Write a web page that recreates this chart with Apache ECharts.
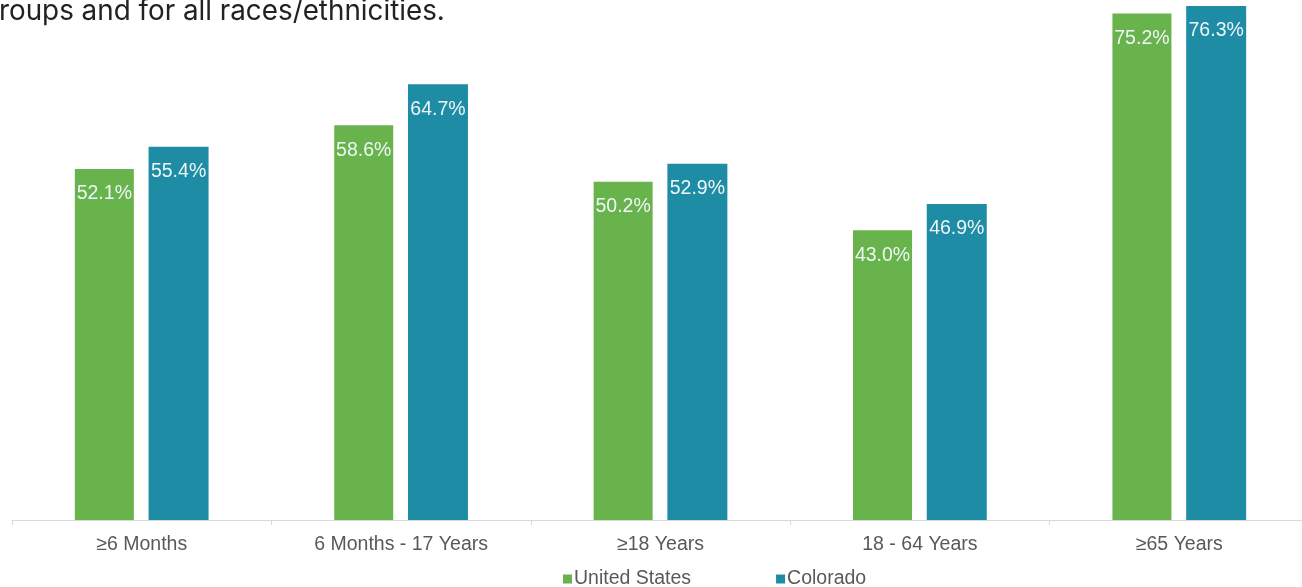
<!DOCTYPE html>
<html><head><meta charset="utf-8">
<script src="https://cdn.jsdelivr.net/npm/echarts@6/dist/echarts.min.js"></script>
<style>html,body{margin:0;padding:0;background:#fff}#c{width:1302px;height:587px}</style>
</head><body><div id="c"></div>
<script>
const categories = ['≥6 Months', '6 Months - 17 Years', '≥18 Years', '18 - 64 Years', '≥65 Years'];
const unitedStates = [52.1, 58.6, 50.2, 43.0, 75.2];
const colorado = [55.4, 64.7, 52.9, 46.9, 76.3];
const seriesNames = ['United States', 'Colorado'];
const captionText = 'roups and for all races/ethnicities.';

const chart = echarts.init(document.getElementById('c'), null, {renderer: 'canvas'});
const FONT = 'Liberation Sans, Arial, sans-serif';
const lbl = {
  show: true, position: 'insideTop', distance: 15,
  color: '#eef6f8', fontSize: 19.5, fontFamily: FONT,
  formatter: p => p.value.toFixed(1) + '%'
};
chart.setOption({
  animation: false,
  graphic: [{type: 'text', left: -1, top: -2, style: {text: captionText, fontSize: 27.8, fontFamily: 'Inter, Noto Sans, sans-serif', fill: '#222'}}],
  grid: {left: 12, width: 1297, top: 0, bottom: 67, containLabel: false, outerBoundsMode: 'none'},
  legend: {
    data: seriesNames, top: 564, left: 558, itemWidth: 9, itemHeight: 9, itemGap: 85,
    icon: 'rect',
    textStyle: {color: '#595959', fontSize: 19.5, fontFamily: FONT, padding: [0,0,0,-3]}
  },
  xAxis: {
    type: 'category', data: categories,
    axisLine: {lineStyle: {color: '#d9d9d9', width: 1}},
    axisTick: {show: true, length: 5, lineStyle: {color: '#d9d9d9'}},
    axisLabel: {color: '#595959', fontSize: 19.5, fontFamily: FONT, margin: 15}
  },
  yAxis: {type: 'value', min: 0, max: 77.2, show: false, splitLine: {show: false}},
  series: [
    {name: seriesNames[0], type: 'bar', data: unitedStates, barWidth: 59, barGap: '25%', itemStyle: {color: '#69b34c'}, label: lbl},
    {name: seriesNames[1], type: 'bar', data: colorado, barWidth: 60, itemStyle: {color: '#1f8ca6'}, label: lbl}
  ]
});
</script></body></html>
